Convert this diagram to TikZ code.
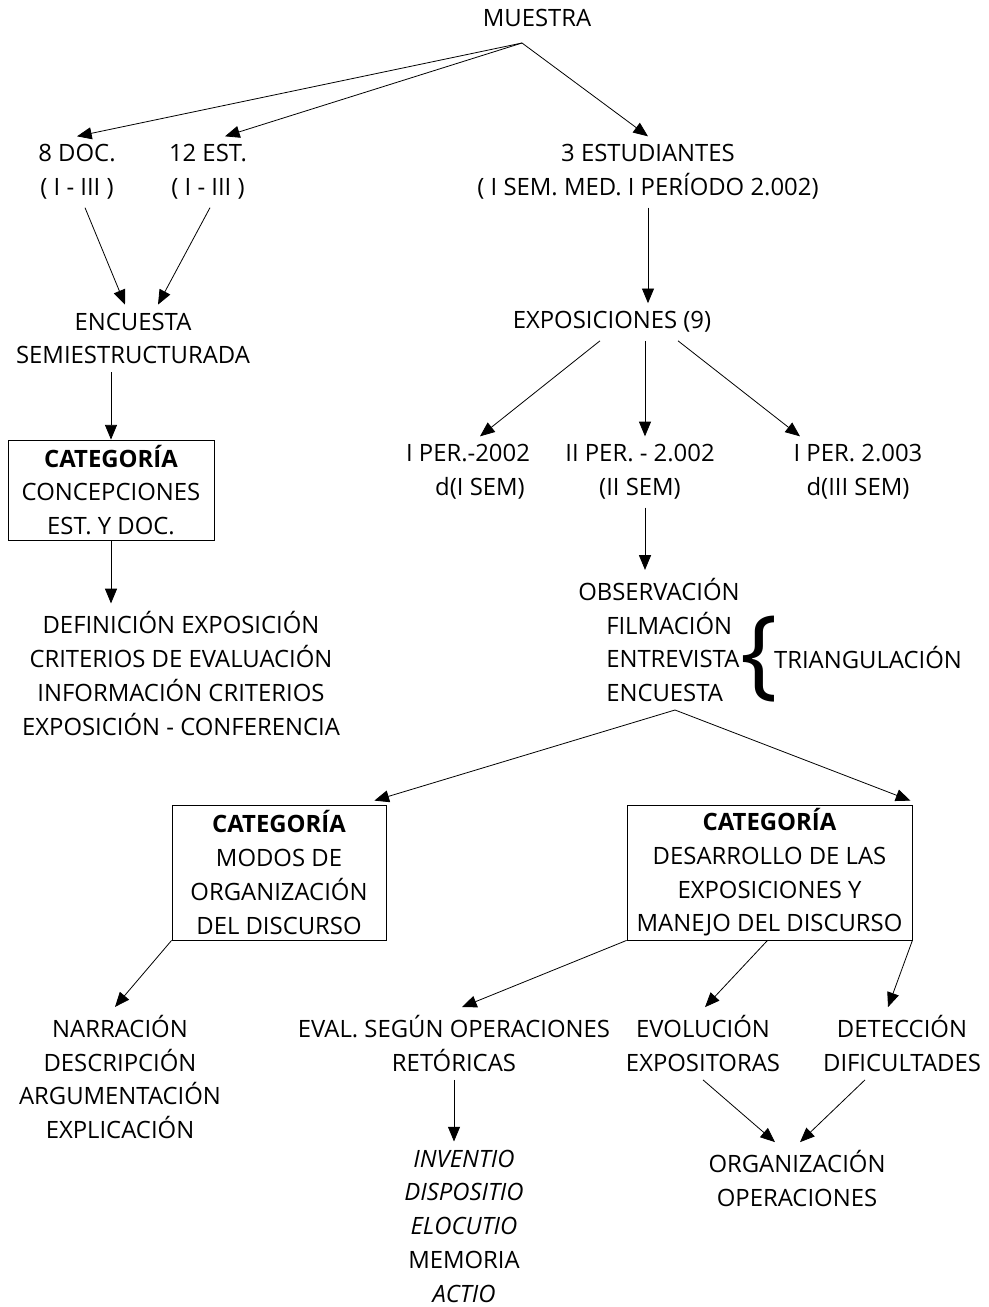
\documentclass[tikz,border=0pt]{standalone}
\usepackage{fontspec}
\setmainfont{Open Sans}
\usepackage{tikz}
\usetikzlibrary{arrows.meta,calc}

\tikzset{
  lbl/.style={align=center,inner sep=6pt,font=\fontsize{17.9}{25.3}\selectfont},
  catbox/.style={lbl,draw,line width=0.6pt,inner sep=0pt},
  arr/.style={line width=0.6pt,-{Triangle[length=11pt,width=9pt]}}
}

\begin{document}
\begin{tikzpicture}[x=0.75pt,y=-0.75pt]
\useasboundingbox (0,0) rectangle (989,1307);
% top level
\node[lbl] (muestra) at (537,18) {MUESTRA};
\coordinate (mfork) at (522,43);
\node[lbl] (doc) at (77,172) {8 DOC.\\( I - III )};
\node[lbl] (est) at (208,172) {12 EST.\\( I - III )};
\node[lbl] (estud) at (648,172) {3 ESTUDIANTES\\( I SEM. MED. I PERÍODO 2.002)};
\draw[arr] (mfork) -- (doc.north);
\draw[arr] (mfork) -- ($(est.north)+(17,0)$);
\draw[arr] (mfork) -- (estud.north);
% left branch
\node[lbl] (encu) at (133,338.5) {ENCUESTA\\SEMIESTRUCTURADA};
\draw[arr] ($(doc.south)+(8,0)$) -- ($(encu.north)+(-8,0)$);
\draw[arr] ($(est.south)+(2,0)$) -- ($(encu.north)+(25,0)$);
\node[catbox,minimum width=154.5pt,minimum height=75pt] (concep) at (111,490)
  {\textbf{CATEGORÍA}\\CONCEPCIONES\\EST. Y DOC.};
\draw[arr] (encu.south -| concep.north) -- (concep.north);
\node[lbl] (defs) at (181,673.5)
  {DEFINICIÓN EXPOSICIÓN\\CRITERIOS DE EVALUACIÓN\\INFORMACIÓN CRITERIOS\\EXPOSICIÓN - CONFERENCIA};
\draw[arr] (concep.south) -- (concep.south |- defs.north);
% right branch
\node[lbl] (expo) at (612,322) {EXPOSICIONES (9)};
\draw[arr] (estud.south) -- (estud.south |- expo.north);
\node[lbl] (per1) at (468,472) {I PER.-2002\\\hspace*{18pt}d(I SEM)};
\node[lbl] (per2) at (640,472) {II PER. - 2.002\\(II SEM)};
\node[lbl] (per3) at (858,472) {I PER. 2.003\\d(III SEM)};
\draw[arr] ($(expo.south)+(-12,0)$) -- ($(per1.north)+(12,0)$);
\draw[arr] ($(expo.south)+(33,0)$) -- ($(per2.north)+(5,0)$);
\draw[arr] ($(expo.south)+(66,0)$) -- ($(per3.north)+(-58,0)$);
\node[lbl,align=left,anchor=west,inner xsep=0pt] (obs) at (606,640)
  {\hspace*{-21pt}OBSERVACIÓN\\FILMACIÓN\\ENTREVISTA\\ENCUESTA};
\draw[arr] ($(per2.south)+(5,0)$) -- ($(per2.south |- obs.north)+(5,0)$);
\node[inner sep=0pt,font=\fontsize{74}{74}\selectfont] (brace) at (759,659) {\{};
\node[lbl] (trian) at (868,657) {TRIANGULACIÓN};
% categories
\coordinate (tfork) at (675,710);
\node[catbox,minimum width=160.5pt,minimum height=101.25pt] (modos) at (279,872.5)
  {\textbf{CATEGORÍA}\\MODOS DE\\ORGANIZACIÓN\\DEL DISCURSO};
\node[catbox,minimum width=213.75pt,minimum height=101.25pt] (desa) at (769.5,872.5)
  {\textbf{CATEGORÍA}\\DESARROLLO DE LAS\\EXPOSICIONES Y\\MANEJO DEL DISCURSO};
\draw[arr] (tfork) -- ($(modos.north east)+(-12,-4)$);
\draw[arr] (tfork) -- ($(desa.north east)+(-2,-4)$);
% bottom level
\node[lbl] (narr) at (120,1077)
  {NARRACIÓN\\DESCRIPCIÓN\\ARGUMENTACIÓN\\EXPLICACIÓN};
\node[lbl] (eval) at (454,1043.5) {EVAL. SEGÚN OPERACIONES\\RETÓRICAS};
\node[lbl] (evol) at (703,1043.5) {EVOLUCIÓN\\EXPOSITORAS};
\node[lbl] (detec) at (902,1043.5) {DETECCIÓN\\DIFICULTADES};
\draw[arr] (modos.south west) -- ($(narr.north)+(-5,0)$);
\draw[arr] (desa.south west) -- ($(eval.north)+(8,0)$);
\draw[arr] ($(desa.south)+(-2,0)$) -- ($(evol.north)+(2,0)$);
\draw[arr] (desa.south east) -- ($(detec.north)+(-14,0)$);
\node[lbl] (latin) at (464,1226)
  {\textit{INVENTIO}\\\textit{DISPOSITIO}\\\textit{ELOCUTIO}\\MEMORIA\\\textit{ACTIO}};
\node[lbl] (orgop) at (797,1178.5) {ORGANIZACIÓN\\OPERACIONES};
\draw[arr] (eval.south) -- (eval.south |- latin.north);
\draw[arr] (evol.south) -- ($(orgop.north)+(-22,0)$);
\draw[arr] ($(detec.south)+(-37,0)$) -- ($(orgop.north)+(3,0)$);
\end{tikzpicture}
\end{document}
